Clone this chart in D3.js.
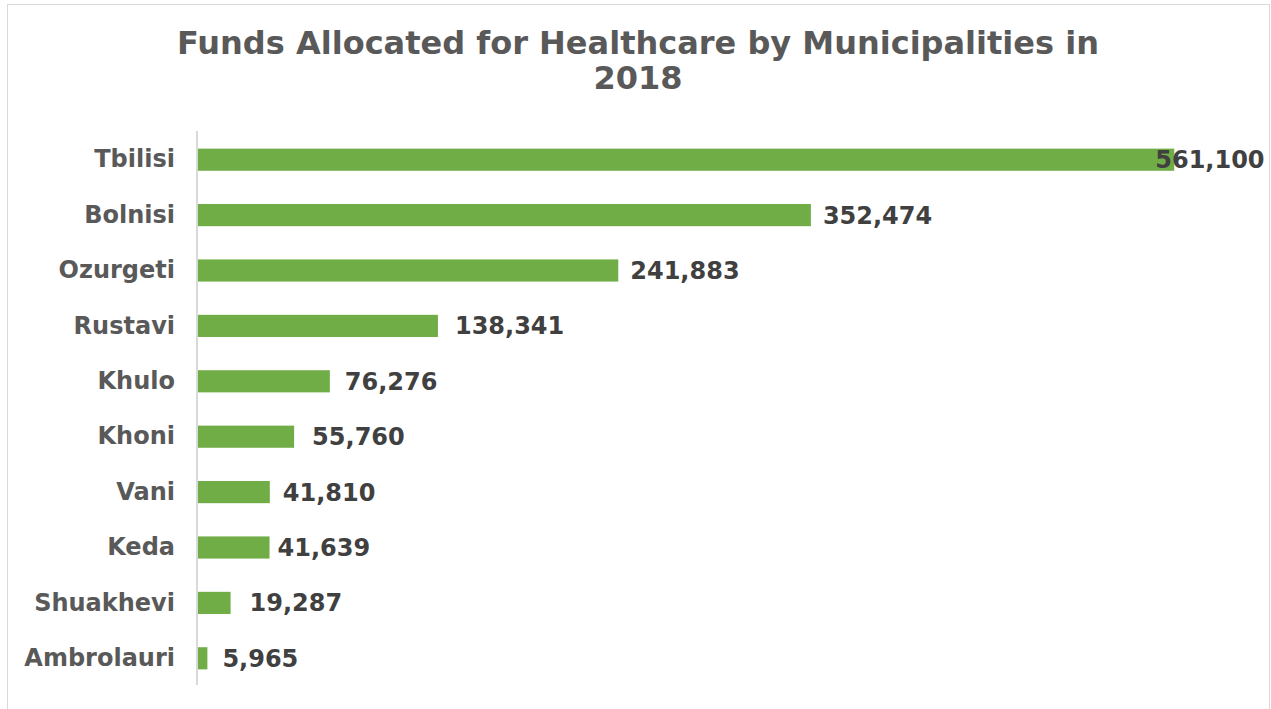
<!DOCTYPE html>
<html><head><meta charset="utf-8">
<script src="https://cdn.jsdelivr.net/npm/d3@7"></script>
<style>body{margin:0;background:#fff}svg{display:block}</style>
</head><body>
<svg id="c" width="1271" height="709"></svg>
<script>
const categories = ["Tbilisi","Bolnisi","Ozurgeti","Rustavi","Khulo","Khoni","Vani","Keda","Shuakhevi","Ambrolauri"];
const values = [561100,352474,241883,138341,76276,55760,41810,41639,19287,5965];
const labelDx = [-19,12,12,17,15,18,13,8,19,15];
const titleLines = ["Funds Allocated for Healthcare by Municipalities in","2018"];

const svg = d3.select("#c");
const font = "'DejaVu Sans', sans-serif";
svg.append("rect").attr("x",7.5).attr("y",4.5).attr("width",1262).attr("height",720)
  .attr("fill","#fff").attr("stroke","#d9d9d9").attr("stroke-width",1);

svg.append("text").attr("x",638).attr("y",54).attr("text-anchor","middle")
  .attr("font-family",font).attr("font-weight","bold").attr("font-size",32).attr("fill","#595959")
  .selectAll("tspan").data(titleLines).join("tspan")
  .attr("x",638).attr("dy",(d,i)=>i?35:0).text(d=>d);

const x = d3.scaleLinear().domain([0,600000]).range([197,1242]);
const y = d3.scaleBand().domain(categories).range([132,686]).paddingInner(0.6).paddingOuter(0.3);

svg.selectAll("rect.bar").data(values).join("rect").attr("class","bar")
  .attr("x",x(0)).attr("y",(d,i)=>y(categories[i]))
  .attr("width",d=>x(d)-x(0)).attr("height",y.bandwidth()).attr("fill","#70ad47");

const yAxis = svg.append("g").attr("transform",`translate(${x(0)},0)`).call(d3.axisLeft(y).tickSize(0).tickPadding(22));
yAxis.select(".domain").attr("stroke","#d9d9d9").attr("stroke-width",2).attr("d","M0,131V685");
yAxis.selectAll("text").attr("font-family",font).attr("font-weight","bold").attr("font-size",24).attr("fill","#595959");

const fmt = d3.format(",");
svg.selectAll("text.val").data(values).join("text").attr("class","val")
  .attr("x",(d,i)=>x(d)+labelDx[i]).attr("y",(d,i)=>y(categories[i])+y.bandwidth()/2)
  .attr("dy","0.35em").attr("font-family",font).attr("font-weight","bold").attr("font-size",24)
  .attr("fill","#404040").text(d=>fmt(d));
</script>
</body></html>
